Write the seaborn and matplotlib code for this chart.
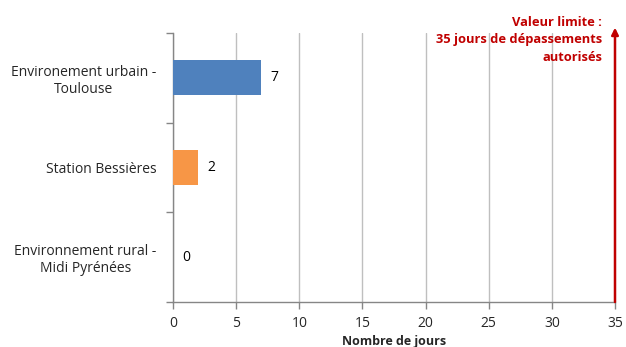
import matplotlib
matplotlib.use("Agg")
import matplotlib.pyplot as plt
import seaborn as sns
import pandas as pd

categories = ["Environement urbain -\nToulouse", "Station Bessières", "Environnement rural -\nMidi Pyrénées"]
days = [7, 2, 0]
colors = ["#4F81BD", "#F79646", "#9BBB59"]
limit = 35
xticks = [0, 5, 10, 15, 20, 25, 30, 35]

sns.set_theme(style="white")
plt.rcParams["font.family"] = ["Open Sans", "DejaVu Sans"]

df = pd.DataFrame({"cat": categories, "days": days})

fig = plt.figure(figsize=(6.26, 3.47), dpi=100)
ax = fig.add_axes([173 / 626, 1 - 302 / 347, (615 - 173) / 626, (302 - 33) / 347])

sns.barplot(data=df, x="days", y="cat", hue="cat", palette=colors, width=0.39,
            legend=False, ax=ax, saturation=1, zorder=3, linewidth=0)

ax.set_xlim(0, limit)
ax.set_ylim(2.5, -0.5)
ax.set_xticks(xticks)
ax.set_xticklabels([str(t) for t in xticks], fontsize=10)
ax.xaxis.grid(True, color="#BFBFBF", linewidth=1, zorder=0)
ax.set_axisbelow(True)

# category boundary ticks on the value axis
ax.set_yticks([-0.5, 0.5, 1.5, 2.5], minor=True)
ax.tick_params(axis="y", which="minor", left=True, length=5, width=1, color="#868686")
ax.tick_params(axis="y", which="major", left=False, length=0, pad=12, labelsize=10)
ax.tick_params(axis="x", bottom=True, length=5, width=1, color="#868686", pad=5)
for lab in ax.get_yticklabels():
    lab.set_multialignment("center")

for side in ["top", "right"]:
    ax.spines[side].set_visible(False)
for side in ["left", "bottom"]:
    ax.spines[side].set_color("#868686")
    ax.spines[side].set_linewidth(1)

ax.set_ylabel("")
ax.set_xlabel("Nombre de jours", fontsize=9, fontweight="bold", labelpad=3)

for i, v in enumerate(days):
    ax.text(v + 0.75, i, str(v), va="center", ha="left", fontsize=10, color="black")

# limit arrow
ax.annotate("", xy=(limit, -0.56), xytext=(limit, 2.5),
            arrowprops=dict(arrowstyle="-|>", color="#C00000", lw=1.8,
                            mutation_scale=10, shrinkA=0, shrinkB=0),
            annotation_clip=False, zorder=5)
ax.text(602 / 626, 1 - 16 / 347, "Valeur limite :\n35 jours de dépassements\nautorisés",
        transform=fig.transFigure, ha="right", va="top", fontsize=9.3,
        fontweight="bold", color="#C00000", linespacing=1.45)

fig.savefig("out.png", dpi=100)
